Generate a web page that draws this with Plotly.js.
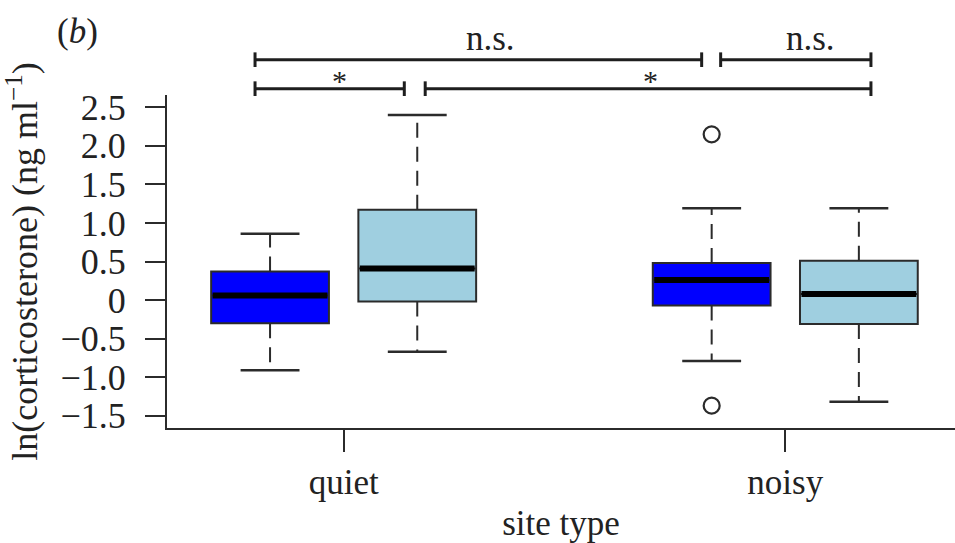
<!DOCTYPE html>
<html>
<head>
<meta charset="utf-8">
<script src="https://cdn.plot.ly/plotly-3.0.1.min.js"></script>
<style>html,body{margin:0;padding:0;background:#fff;}#chart{width:955px;height:543px;}</style>
</head>
<body>
<div id="chart"></div>
<script>
// ---- data ----
var siteTypes = ["quiet", "noisy"];
var siteTickPos = [1.5, 4.5];
var boxPos = [1, 2, 4, 5];
var boxGroup = ["quiet", "quiet", "noisy", "noisy"];
var boxColor = ["#0000ff", "#9fcfe0", "#0000ff", "#9fcfe0"];
var lowerWhisker = [-0.91, -0.67, -0.79, -1.32];
var q1Vals = [-0.30, -0.02, -0.07, -0.31];
var medianVals = [0.06, 0.41, 0.26, 0.08];
var q3Vals = [0.37, 1.17, 0.48, 0.51];
var upperWhisker = [0.86, 2.40, 1.19, 1.19];
var outlierPos = [4, 4];
var outlierVals = [2.15, -1.37];
var yTickVals = [-1.5, -1.0, -0.5, 0, 0.5, 1.0, 1.5, 2.0, 2.5];
var yTickText = ["\u22121.5", "\u22121.0", "\u22120.5", "0", "0.5", "1.0", "1.5", "2.0", "2.5"];
// significance brackets
var bracketStart = [0.898, 4.061, 0.898, 2.054];
var bracketEnd = [3.932, 5.082, 1.912, 5.082];
var bracketLevel = [1.106, 1.106, 1.019, 1.019];
var bracketLabel = ["n.s.", "n.s.", "*", "*"];
var labelPos = [2.50, 4.67, 1.47, 3.585];

var FONT = "Liberation Serif, Times New Roman, serif";
var INK = "#2b2b2b";
var boxW = 0.8, capW = 0.4;

var traces = [];
// boxes (body only; whiskers drawn dashed separately)
for (var i = 0; i < boxPos.length; i++) {
  traces.push({
    type: "box",
    name: boxGroup[i],
    x: [boxPos[i]],
    q1: [q1Vals[i]],
    median: [medianVals[i]],
    q3: [q3Vals[i]],
    lowerfence: [q1Vals[i]],
    upperfence: [q3Vals[i]],
    width: boxW,
    whiskerwidth: 0,
    boxpoints: false,
    fillcolor: boxColor[i],
    line: {color: INK, width: 2},
    showlegend: false,
    hoverinfo: "skip"
  });
}
// dashed whiskers, caps, thick medians
var wx = [], wy = [], cx = [], cy = [], mx = [], my = [];
for (var j = 0; j < boxPos.length; j++) {
  wx.push(boxPos[j], boxPos[j], null, boxPos[j], boxPos[j], null);
  wy.push(q3Vals[j], upperWhisker[j], null, q1Vals[j], lowerWhisker[j], null);
  cx.push(boxPos[j] - capW / 2, boxPos[j] + capW / 2, null, boxPos[j] - capW / 2, boxPos[j] + capW / 2, null);
  cy.push(upperWhisker[j], upperWhisker[j], null, lowerWhisker[j], lowerWhisker[j], null);
  mx.push(boxPos[j] - boxW / 2 + 0.01, boxPos[j] + boxW / 2 - 0.01, null);
  my.push(medianVals[j], medianVals[j], null);
}
traces.push({type: "scatter", mode: "lines", x: wx, y: wy, line: {color: INK, width: 2, dash: "15px,9px"}, showlegend: false, hoverinfo: "skip"});
traces.push({type: "scatter", mode: "lines", x: cx, y: cy, line: {color: INK, width: 2.5}, showlegend: false, hoverinfo: "skip"});
traces.push({type: "scatter", mode: "lines", x: mx, y: my, line: {color: "#000", width: 6}, showlegend: false, hoverinfo: "skip"});
traces.push({type: "scatter", mode: "markers", x: outlierPos, y: outlierVals,
  marker: {symbol: "circle-open", size: 16, color: INK, line: {width: 2.2, color: INK}}, showlegend: false, hoverinfo: "skip"});

var shapes = [], annotations = [];
var tickH = 0.022;
for (var k = 0; k < bracketStart.length; k++) {
  shapes.push({type: "line", xref: "x", yref: "paper", x0: bracketStart[k], x1: bracketEnd[k], y0: bracketLevel[k], y1: bracketLevel[k], line: {color: "#1e1e1e", width: 3}});
  shapes.push({type: "line", xref: "x", yref: "paper", x0: bracketStart[k], x1: bracketStart[k], y0: bracketLevel[k] - tickH, y1: bracketLevel[k] + tickH, line: {color: "#1e1e1e", width: 3}});
  shapes.push({type: "line", xref: "x", yref: "paper", x0: bracketEnd[k], x1: bracketEnd[k], y0: bracketLevel[k] - tickH, y1: bracketLevel[k] + tickH, line: {color: "#1e1e1e", width: 3}});
  var isStar = bracketLabel[k] === "*";
  annotations.push({xref: "x", yref: "paper", x: labelPos[k], y: bracketLevel[k] + (isStar ? -0.03 : 0.0), yanchor: "bottom",
    text: bracketLabel[k], showarrow: false, font: {family: FONT, size: isStar ? 30 : 35, color: "#222"}});
}
annotations.push({xref: "paper", yref: "paper", x: -0.114, y: 1.19, xanchor: "center", yanchor: "middle",
  text: "(<i>b</i>)", showarrow: false, font: {family: FONT, size: 35, color: "#222"}});

var layout = {
  width: 955, height: 543,
  margin: {l: 167, r: 0, t: 95, b: 115, autoexpand: false},
  paper_bgcolor: "#fff", plot_bgcolor: "#fff",
  showlegend: false,
  boxmode: "overlay",
  font: {family: FONT, size: 34, color: "#222"},
  xaxis: {
    range: [0.3, 5.653], tickvals: siteTickPos, ticktext: siteTypes,
    showgrid: false, zeroline: false, showline: true, linecolor: INK, linewidth: 2,
    ticks: "outside", ticklen: 22, tickwidth: 2, tickcolor: INK,
    ticklabelstandoff: 0,
    tickfont: {family: FONT, size: 35, color: "#222"},
    title: {text: "site type", font: {family: FONT, size: 35, color: "#222"}, standoff: 9}
  },
  yaxis: {
    range: [-1.66, 2.66], tickvals: yTickVals, ticktext: yTickText,
    showgrid: false, zeroline: false, showline: true, linecolor: INK, linewidth: 2,
    ticks: "outside", ticklen: 20, tickwidth: 2, tickcolor: INK,
    ticklabelstandoff: 12,
    tickfont: {family: FONT, size: 36, color: "#222"},
    title: {text: "ln(corticosterone) (ng ml<sup>\u22121</sup>)", font: {family: FONT, size: 36, color: "#222"}, standoff: 12}
  },
  shapes: shapes,
  annotations: annotations
};
Plotly.newPlot("chart", traces, layout, {displayModeBar: false, staticPlot: true});
</script>
</body>
</html>
